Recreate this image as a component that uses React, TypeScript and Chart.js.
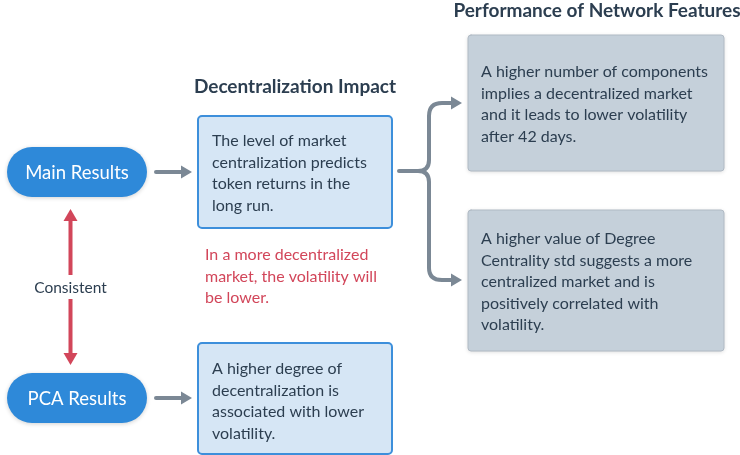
import React, { useEffect, useRef } from "react";
import { Chart, registerables } from "chart.js";

Chart.register(...registerables);

// ---- content ----
const pillLabels = ["Main Results", "PCA Results"];
const sectionTitles = ["Decentralization Impact", "Performance of Network Features"];
const impactTexts = [
  ["The level of market", "centralization predicts", "token returns in the", "long run."],
  ["A higher degree of", "decentralization is", "associated with lower", "volatility."],
];
const featureTexts = [
  ["A higher number of components", "implies a decentralized market", "and it leads to lower volatility", "after 42 days."],
  ["A higher value of Degree", "Centrality std suggests a more", "centralized market and is", "positively correlated with", "volatility."],
];
const noteText = ["In a more decentralized", "market, the volatility will", "be lower."];
const linkLabel = "Consistent";

// ---- layout (diagram coordinates) ----
const W = 740;
const H = 455;
const FONT = "Lato, 'Noto Sans', sans-serif";

export default function App() {
  const ref = useRef<HTMLCanvasElement | null>(null);
  useEffect(() => {
    document.body.style.margin = "0";
    const canvas = ref.current;
    if (!canvas) return;

    const diagram = {
      id: "diagram",
      afterDraw(chart: any) {
        const ctx = chart.ctx as CanvasRenderingContext2D;
        const sx = chart.scales.x;
        const sy = chart.scales.y;
        const X = (v: number) => sx.getPixelForValue(v);
        const Y = (v: number) => sy.getPixelForValue(v);

        const rr = (x0: number, y0: number, x1: number, y1: number, r: number) => {
          const a = X(x0), b = Y(y0), c = X(x1), d = Y(y1);
          ctx.beginPath();
          ctx.moveTo(a + r, b);
          ctx.lineTo(c - r, b);
          ctx.arcTo(c, b, c, b + r, r);
          ctx.lineTo(c, d - r);
          ctx.arcTo(c, d, c - r, d, r);
          ctx.lineTo(a + r, d);
          ctx.arcTo(a, d, a, d - r, r);
          ctx.lineTo(a, b + r);
          ctx.arcTo(a, b, a + r, b, r);
          ctx.closePath();
        };

        const lines = (arr: string[], x: number, y0: number, lh: number, color: string, font: string) => {
          ctx.fillStyle = color;
          ctx.font = font;
          ctx.textAlign = "left";
          ctx.textBaseline = "middle";
          arr.forEach((t, i) => ctx.fillText(t, X(x), Y(y0 + i * lh)));
        };

        const headRight = (tx: number, ty: number, color: string) => {
          ctx.fillStyle = color;
          ctx.beginPath();
          ctx.moveTo(X(tx), Y(ty));
          ctx.lineTo(X(tx - 11), Y(ty - 6.5));
          ctx.lineTo(X(tx - 11), Y(ty + 6.5));
          ctx.closePath();
          ctx.fill();
        };
        const headV = (tx: number, ty: number, dir: number, color: string) => {
          ctx.fillStyle = color;
          ctx.beginPath();
          ctx.moveTo(X(tx), Y(ty));
          ctx.lineTo(X(tx - 7), Y(ty + dir * 12));
          ctx.lineTo(X(tx + 7), Y(ty + dir * 12));
          ctx.closePath();
          ctx.fill();
        };

        const gray = "#7b8895";
        const red = "#d2465a";
        const dark = "#2c3e50";
        const body = `16px ${FONT}`;

        ctx.save();
        ctx.lineCap = "round";

        // titles
        ctx.fillStyle = dark;
        ctx.font = `bold 19px ${FONT}`;
        ctx.textAlign = "center";
        ctx.textBaseline = "middle";
        ctx.fillText(sectionTitles[0], X(295), Y(87));
        ctx.fillText(sectionTitles[1], X(597), Y(11));

        // pills
        const pills = [
          [7, 147, 147, 197],
          [7, 373, 147, 423],
        ];
        pills.forEach((p, i) => {
          ctx.save();
          ctx.shadowColor = "rgba(0,0,0,0.18)";
          ctx.shadowBlur = 4;
          ctx.shadowOffsetY = 1;
          rr(p[0], p[1], p[2], p[3], 25);
          ctx.fillStyle = "#2e89d9";
          ctx.fill();
          ctx.restore();
          ctx.fillStyle = "#ffffff";
          ctx.font = `18.5px ${FONT}`;
          ctx.textAlign = "center";
          ctx.textBaseline = "middle";
          ctx.fillText(pillLabels[i], X((p[0] + p[2]) / 2), Y((p[1] + p[3]) / 2 + 1));
        });

        // gray straight arrows
        ctx.strokeStyle = gray;
        ctx.lineWidth = 4;
        [172, 398].forEach((y) => {
          ctx.beginPath();
          ctx.moveTo(X(156), Y(y));
          ctx.lineTo(X(182), Y(y));
          ctx.stroke();
          headRight(192, y, gray);
        });

        // impact boxes
        const iboxes = [
          [198, 116, 392, 228, 141],
          [198, 343, 392, 454, 369],
        ];
        iboxes.forEach((b, i) => {
          rr(b[0], b[1], b[2], b[3], 4);
          ctx.fillStyle = "#d6e6f5";
          ctx.fill();
          ctx.strokeStyle = "#3d8fdb";
          ctx.lineWidth = 2;
          ctx.stroke();
          lines(impactTexts[i], 212, b[4], 21.5, dark, body);
        });

        // red note
        lines(noteText, 205, 255, 21.5, red, body);

        // consistent double arrow
        ctx.strokeStyle = red;
        ctx.lineWidth = 4;
        ctx.lineCap = "butt";
        ctx.beginPath();
        ctx.moveTo(X(70.5), Y(218));
        ctx.lineTo(X(70.5), Y(275));
        ctx.moveTo(X(70.5), Y(299));
        ctx.lineTo(X(70.5), Y(356));
        ctx.stroke();
        headV(70.5, 209, 1, red);
        headV(70.5, 365, -1, red);
        ctx.fillStyle = dark;
        ctx.font = `15.5px ${FONT}`;
        ctx.textAlign = "center";
        ctx.textBaseline = "middle";
        ctx.fillText(linkLabel, X(70.5), Y(288));

        // bracket arrows
        ctx.strokeStyle = gray;
        ctx.lineWidth = 4;
        ctx.lineCap = "round";
        ctx.lineJoin = "round";
        ctx.beginPath();
        ctx.moveTo(X(399), Y(171));
        ctx.lineTo(X(418), Y(171));
        ctx.quadraticCurveTo(X(429), Y(171), X(429), Y(160));
        ctx.lineTo(X(429), Y(116));
        ctx.quadraticCurveTo(X(429), Y(103), X(442), Y(103));
        ctx.lineTo(X(452), Y(103));
        ctx.moveTo(X(418), Y(171));
        ctx.quadraticCurveTo(X(429), Y(171), X(429), Y(182));
        ctx.lineTo(X(429), Y(268));
        ctx.quadraticCurveTo(X(429), Y(280), X(442), Y(280));
        ctx.lineTo(X(452), Y(280));
        ctx.stroke();
        headRight(462, 103, gray);
        headRight(462, 280, gray);

        // feature boxes
        const fboxes = [
          [468, 35, 724, 171, 72],
          [468, 210, 724, 351, 239],
        ];
        fboxes.forEach((b, i) => {
          ctx.save();
          ctx.shadowColor = "rgba(0,0,0,0.15)";
          ctx.shadowBlur = 4;
          ctx.shadowOffsetY = 1;
          rr(b[0], b[1], b[2], b[3], 3);
          ctx.fillStyle = "#c5d0da";
          ctx.fill();
          ctx.restore();
          rr(b[0], b[1], b[2], b[3], 3);
          ctx.strokeStyle = "#b0bac4";
          ctx.lineWidth = 1;
          ctx.stroke();
          lines(featureTexts[i], 481, b[4], 21.5, dark, body);
        });

        ctx.restore();
      },
    };

    const chart = new Chart(canvas, {
      type: "scatter",
      data: { datasets: [{ data: [], pointRadius: 0 }] },
      options: {
        animation: false,
        responsive: false,
        events: [],
        layout: { padding: 0 },
        plugins: { legend: { display: false }, tooltip: { enabled: false }, title: { display: false } },
        scales: {
          x: { type: "linear", min: 0, max: W, display: false },
          y: { type: "linear", min: 0, max: H, reverse: true, display: false },
        },
      },
      plugins: [diagram],
    });
    return () => chart.destroy();
  }, []);

  return (
    <div style={{ width: W, height: H, background: "#ffffff" }}>
      <canvas ref={ref} width={W} height={H} />
    </div>
  );
}
